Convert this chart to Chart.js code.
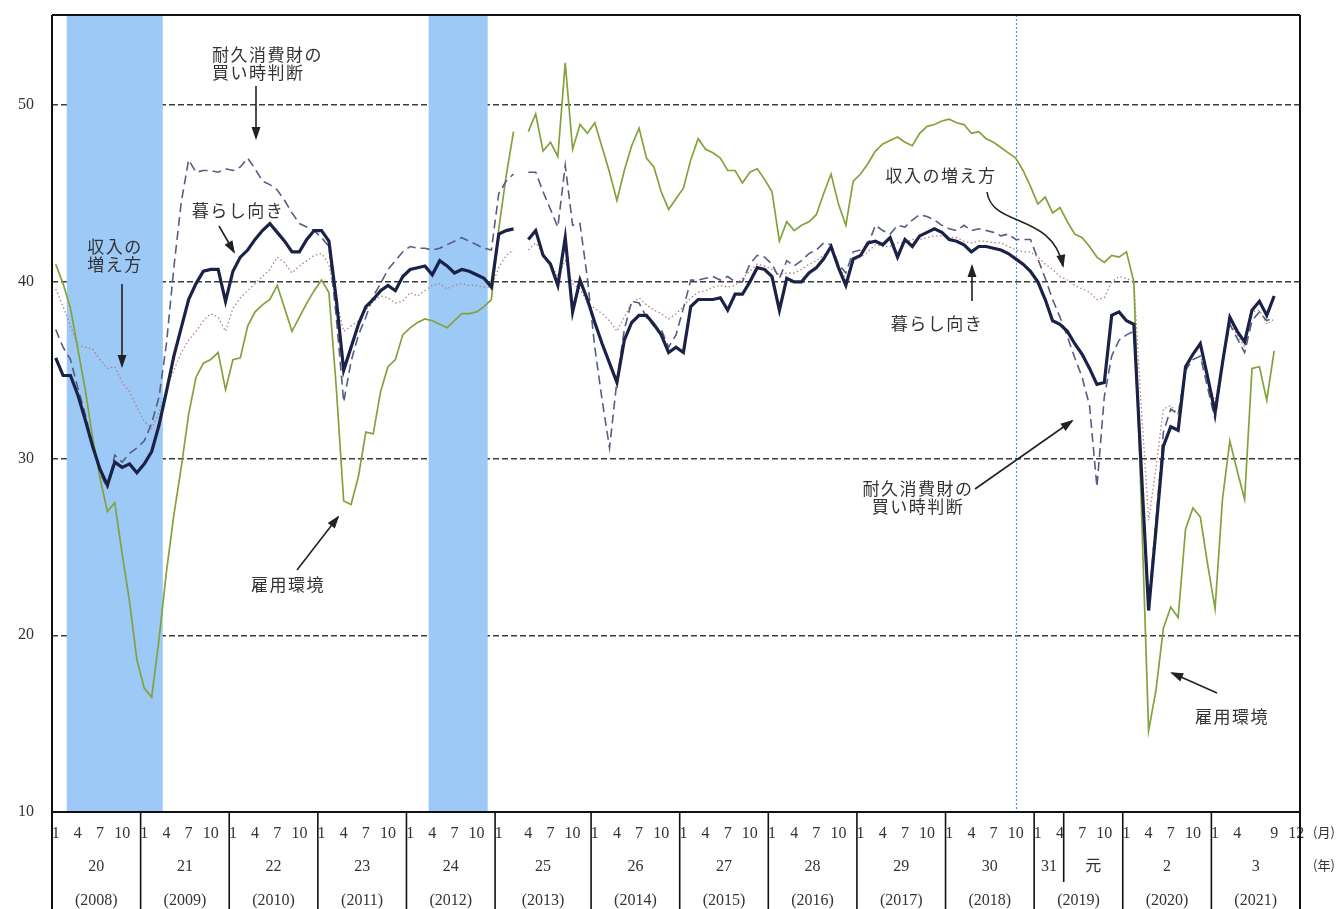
<!DOCTYPE html>
<html><head><meta charset="utf-8">
<script src="https://cdn.jsdelivr.net/npm/chart.js@4.4.1/dist/chart.umd.min.js"></script>
<style>html,body{margin:0;padding:0;background:#fff}#wrap{width:1343px;height:909px;position:relative}</style>
</head><body><div id="wrap"><canvas id="c"></canvas></div>
<script>
// ---------- data (monthly, Jan 2008 – Sep 2021) ----------
const years = [2008,2009,2010,2011,2012,2013,2014,2015,2016,2017,2018,2019,2020,2021];
const eraNames = ['20','21','22','23','24','25','26','27','28','29','30',null,'2','3'];
const era2019 = [['31', 1, 4], ['元', 5, 12]];   // Heisei 31 (Jan–Apr), Reiwa 元 (May–Dec)
const monthTicks = [1,4,7,10];
const monthTicks2021 = [1,4,9,12];
const surveyBreak = '2013-03';                    // blank slot after this month (survey method change)
const recessions = [['2008-03','2009-03'], ['2012-04','2012-11']];
const cyclePeak = '2018-10';
const yTicks = [10,20,30,40,50];

// 暮らし向き
const kurashi = [
 35.7,34.7,34.7,33.6,32.2,30.7,29.4,28.5,29.8,29.5,29.7,29.2,
 29.7,30.4,31.9,33.8,35.8,37.4,39.0,39.9,40.6,40.7,40.7,38.9,
 40.6,41.4,41.8,42.4,42.9,43.3,42.8,42.3,41.7,41.7,42.4,42.9,
 42.9,42.3,39.0,35.0,36.3,37.6,38.6,39.0,39.5,39.8,39.5,40.3,
 40.7,40.8,40.9,40.4,41.2,40.9,40.5,40.7,40.6,40.4,40.2,39.7,
 42.7,42.9,43.0,42.4,42.9,41.5,41.0,39.8,42.5,38.3,40.1,39.0,
 37.7,36.5,35.4,34.3,36.7,37.7,38.1,38.1,37.6,37.0,36.0,36.3,
 36.0,38.6,39.0,39.0,39.0,39.1,38.4,39.3,39.3,40.0,40.8,40.7,
 40.3,38.4,40.2,40.0,40.0,40.5,40.8,41.3,42.0,40.8,39.8,41.3,
 41.5,42.2,42.3,42.1,42.5,41.4,42.4,42.0,42.6,42.8,43.0,42.8,
 42.4,42.3,42.1,41.7,42.0,42.0,41.9,41.8,41.6,41.3,41.0,40.6,
 40.0,39.0,37.8,37.6,37.2,36.5,35.9,35.1,34.2,34.3,38.1,38.3,
 37.8,37.6,29.5,21.4,26.0,30.7,31.8,31.6,35.2,35.9,36.5,34.6,
 32.6,35.4,38.0,37.2,36.6,38.4,38.9,38.1,39.2];
// 収入の増え方
const shunyu = [
 39.6,38.6,37.5,36.4,36.3,36.2,35.6,35.1,35.2,34.3,33.8,32.9,
 32.1,31.7,32.6,34.0,35.0,36.0,36.7,37.2,37.8,38.2,38.0,37.2,
 38.5,39.1,39.5,39.9,40.3,40.7,41.4,41.1,40.5,40.9,41.2,41.5,
 41.6,41.0,38.9,37.2,37.5,37.8,38.4,38.9,39.2,39.1,38.8,38.9,
 39.4,39.2,39.5,39.8,39.9,39.6,39.8,39.9,39.8,39.8,39.7,39.7,
 40.8,41.5,41.8,41.8,42.2,41.6,41.0,40.3,41.2,39.9,39.6,38.8,
 38.5,38.2,37.8,37.2,38.0,38.8,39.1,38.7,38.4,38.2,37.9,38.2,
 38.6,39.1,39.4,39.5,39.7,39.8,39.7,39.8,40.2,40.6,41.0,40.9,
 40.7,40.4,40.5,40.5,40.7,41.0,41.2,41.5,41.9,41.0,40.1,41.2,
 41.4,41.7,42.1,42.0,42.0,42.2,42.2,42.4,42.4,42.5,42.6,42.6,
 42.5,42.5,42.3,42.2,42.3,42.3,42.2,42.2,42.0,41.8,41.7,41.7,
 41.4,41.0,40.7,40.3,40.1,39.8,39.6,39.4,39.0,39.1,40.0,40.3,
 40.2,40.0,33.0,26.5,29.5,32.8,33.0,32.5,35.3,35.6,35.8,34.5,
 33.2,35.5,37.8,37.0,36.3,38.3,38.4,37.6,37.9];
// 雇用環境
const koyou = [
 41.0,39.9,38.5,36.2,33.9,31.2,28.9,27.0,27.5,24.6,21.9,18.6,
 17.0,16.5,19.8,23.6,26.8,29.5,32.5,34.6,35.4,35.6,36.0,33.9,
 35.6,35.7,37.5,38.3,38.7,39.0,39.8,38.5,37.2,38.0,38.8,39.5,
 40.1,39.4,34.0,27.6,27.4,29.0,31.5,31.4,33.8,35.2,35.6,37.0,
 37.4,37.7,37.9,37.8,37.6,37.4,37.8,38.2,38.2,38.3,38.6,39.0,
 43.0,46.0,48.5,48.5,49.5,47.4,47.9,47.1,52.4,47.5,48.9,48.4,
 49.0,47.6,46.2,44.6,46.3,47.7,48.7,47.0,46.5,45.1,44.1,44.7,
 45.3,46.9,48.1,47.5,47.3,47.0,46.3,46.3,45.6,46.2,46.4,45.8,
 45.1,42.3,43.4,42.9,43.2,43.4,43.8,45.0,46.1,44.4,43.2,45.7,
 46.1,46.7,47.4,47.8,48.0,48.2,47.9,47.7,48.4,48.8,48.9,49.1,
 49.2,49.0,48.9,48.4,48.5,48.1,47.9,47.6,47.3,47.0,46.3,45.4,
 44.4,44.8,43.9,44.2,43.4,42.7,42.5,42.0,41.4,41.1,41.5,41.4,
 41.7,40.0,27.5,14.6,16.9,20.4,21.6,21.0,26.0,27.2,26.7,24.0,
 21.5,27.7,31.0,29.3,27.7,35.1,35.2,33.3,36.1];
// 耐久消費財の買い時判断
const taikyu = [
 37.3,36.3,35.6,34.0,32.5,30.8,29.2,28.3,30.2,29.8,30.3,30.6,
 31.0,32.0,33.5,36.5,40.8,44.5,46.9,46.2,46.3,46.3,46.2,46.4,
 46.3,46.5,47.0,46.4,45.7,45.5,45.2,44.6,43.9,43.3,43.1,42.9,
 42.5,42.0,38.0,33.2,35.5,37.0,38.0,39.2,39.9,40.7,41.2,41.7,
 42.0,41.9,41.9,41.8,41.9,42.1,42.3,42.5,42.3,42.1,41.9,41.8,
 45.0,45.7,46.1,46.2,46.2,45.1,44.1,43.1,46.6,43.2,43.3,40.2,
 36.3,33.3,30.6,34.4,37.3,38.9,38.8,38.0,37.5,37.3,36.3,37.0,
 38.5,40.1,40.1,40.2,40.3,40.1,40.3,40.0,40.0,41.0,41.5,41.4,
 41.0,40.2,41.2,40.9,41.2,41.6,41.8,42.2,42.1,41.0,40.5,41.7,
 41.8,42.1,43.2,42.9,42.7,43.2,43.1,43.5,43.8,43.7,43.5,43.2,
 43.0,42.9,43.2,42.9,43.0,42.9,42.8,42.6,42.7,42.4,42.4,42.4,
 41.3,40.2,39.0,38.0,36.9,35.7,34.6,33.0,28.4,33.5,35.8,36.7,
 37.0,37.2,29.5,21.8,26.5,31.5,32.8,32.5,35.0,35.6,35.8,34.0,
 32.2,35.5,37.6,36.8,36.0,37.8,38.3,37.8,38.0];

// ---------- categories (one slot per month, plus a blank slot at the survey break) ----------
const slots = [];
years.forEach(y => { for (let m = 1; m <= 12; m++) {
  const key = y + '-' + String(m).padStart(2, '0');
  slots.push(key);
  if (key === surveyBreak) slots.push('');
}});
const breakIdx = slots.indexOf('');
const withGap = a => [...a.slice(0, breakIdx), null, ...a.slice(breakIdx)];
const slotOf = key => slots.indexOf(key);
const monthLabels = slots.map(k => {
  if (!k) return '';
  const y = +k.slice(0, 4), m = +k.slice(5);
  const set = y === 2021 ? monthTicks2021 : monthTicks;
  return set.includes(m) ? String(m) : '';
});
// year-row ticks
const yearTicks = [];
years.forEach((y, i) => {
  const a = slotOf(y + '-01'), b = slotOf(y + '-12');
  if (eraNames[i] !== null) yearTicks.push({ v: (a + b) / 2, label: [eraNames[i], '(' + y + ')'] });
  else {
    era2019.forEach(([n, m1, m2]) => {
      const s1 = slotOf(y + '-' + String(m1).padStart(2, '0')), s2 = slotOf(y + '-' + String(m2).padStart(2, '0'));
      yearTicks.push({ v: (s1 + s2) / 2, label: [n, ''] });
    });
    yearTicks.push({ v: (a + b) / 2, label: ['', '(' + y + ')'] });
  }
});

// ---------- drawing helpers ----------
const SERIF = '"Liberation Serif", "Noto Sans CJK JP", serif';
const JP = '"Noto Sans CJK JP", sans-serif';
function arrow(ctx, pts, curve) {
  ctx.save();
  ctx.strokeStyle = '#222'; ctx.fillStyle = '#222'; ctx.lineWidth = 1.6; ctx.setLineDash([]);
  ctx.beginPath(); ctx.moveTo(pts[0][0], pts[0][1]);
  if (curve) ctx.bezierCurveTo(pts[1][0], pts[1][1], pts[2][0], pts[2][1], pts[3][0], pts[3][1]);
  else ctx.lineTo(pts[1][0], pts[1][1]);
  ctx.stroke();
  const end = pts[pts.length - 1], prev = pts[pts.length - 2];
  const ang = Math.atan2(end[1] - prev[1], end[0] - prev[0]);
  const L = 11, W = 4.5;
  ctx.beginPath();
  ctx.moveTo(end[0] + Math.cos(ang) * 2, end[1] + Math.sin(ang) * 2);
  ctx.lineTo(end[0] - Math.cos(ang) * L - Math.sin(ang) * W, end[1] - Math.sin(ang) * L + Math.cos(ang) * W);
  ctx.lineTo(end[0] - Math.cos(ang) * L + Math.sin(ang) * W, end[1] - Math.sin(ang) * L - Math.cos(ang) * W);
  ctx.closePath(); ctx.fill();
  ctx.restore();
}
const notes = [
  { lines: ['耐久消費財の', '買い時判断'], x: 212, y: 55, align: 'left' },
  { lines: ['暮らし向き'], x: 238, y: 211, align: 'center' },
  { lines: ['収入の', '増え方'], x: 115, y: 247, align: 'center' },
  { lines: ['雇用環境'], x: 288, y: 585, align: 'center' },
  { lines: ['収入の増え方'], x: 941, y: 176, align: 'center' },
  { lines: ['暮らし向き'], x: 937, y: 324, align: 'center' },
  { lines: ['耐久消費財の', '買い時判断'], x: 918, y: 489, align: 'center' },
  { lines: ['雇用環境'], x: 1232, y: 717, align: 'center' }
];
const arrows = [
  [[256, 86], [256, 138]],
  [[219, 226], [234, 252]],
  [[122, 284], [122, 366]],
  [[297, 570], [338, 517]],
  [[972, 301], [972, 266]],
  [[975, 489], [1072, 421]],
  [[1217, 693], [1172, 673]]
];
const curvedArrow = [[987, 192], [992, 228], [1052, 212], [1063, 266]];

const decor = {
  id: 'decor',
  beforeDatasetsDraw(chart) {
    const { ctx, chartArea: a, scales: { x } } = chart;
    ctx.save();
    ctx.fillStyle = '#9cc9f6';
    recessions.forEach(([s, e]) => {
      const x1 = x.getPixelForValue(slotOf(s) - 0.5), x2 = x.getPixelForValue(slotOf(e) + 0.5);
      ctx.fillRect(x1, a.top, x2 - x1, a.bottom - a.top);
    });
    const px = Math.round(x.getPixelForValue(slotOf(cyclePeak))) + 0.5;
    ctx.strokeStyle = '#4c8fdc'; ctx.lineWidth = 1.2; ctx.setLineDash([2, 2]);
    ctx.beginPath(); ctx.moveTo(px, a.top); ctx.lineTo(px, a.bottom); ctx.stroke();
    ctx.restore();
  },
  afterDraw(chart) {
    const { ctx, chartArea: a, scales: { x } } = chart;
    const H = chart.height;
    ctx.save();
    ctx.strokeStyle = '#111'; ctx.lineWidth = 2; ctx.setLineDash([]);
    ctx.beginPath();
    ctx.moveTo(a.left, a.top); ctx.lineTo(a.right, a.top);
    ctx.moveTo(a.left, a.bottom); ctx.lineTo(a.right, a.bottom);
    ctx.moveTo(a.left, a.top); ctx.lineTo(a.left, H);
    ctx.moveTo(a.right, a.top); ctx.lineTo(a.right, H);
    ctx.stroke();
    ctx.lineWidth = 1.6;
    ctx.beginPath();
    years.slice(1).forEach(y => {
      const px = x.getPixelForValue(slotOf(y + '-01') - 0.5);
      ctx.moveTo(px, a.bottom); ctx.lineTo(px, H);
    });
    const eraPx = x.getPixelForValue(slotOf('2019-05') - 0.5);
    ctx.moveTo(eraPx, a.bottom); ctx.lineTo(eraPx, a.bottom + 70);
    ctx.stroke();
    // unit labels
    ctx.fillStyle = '#333'; ctx.font = '13px ' + JP; ctx.textAlign = 'center'; ctx.textBaseline = 'middle';
    ctx.fillText('(月)', 1324, 832);
    ctx.fillText('(年)', 1324, 865);
    // annotations
    ctx.fillStyle = '#333'; ctx.font = '17px ' + JP; ctx.textBaseline = 'middle';
    try { ctx.letterSpacing = '1.5px'; } catch (e) {}
    notes.forEach(n => {
      ctx.textAlign = n.align;
      n.lines.forEach((t, i) => ctx.fillText(t, n.x, n.y + i * 18));
    });
    ctx.restore();
    arrows.forEach(p => arrow(ctx, p, false));
    arrow(ctx, curvedArrow, true);
  }
};

const line = (data, color, width, dash) => ({
  data: withGap(data), borderColor: color, borderWidth: width, borderDash: dash || [],
  pointRadius: 0, tension: 0, spanGaps: false, fill: false
});

new Chart(document.getElementById('c'), {
  type: 'line',
  data: {
    labels: slots,
    datasets: [
      Object.assign(line(kurashi, '#1b2248', 3.2), { label: '暮らし向き' }),
      Object.assign(line(taikyu, '#595b82', 1.6, [9, 5]), { label: '耐久消費財の買い時判断' }),
      Object.assign(line(koyou, '#84a23c', 1.7), { label: '雇用環境' }),
      Object.assign(line(shunyu, '#b57f7f', 1.3, [1.5, 2.5]), { label: '収入の増え方' })
    ]
  },
  options: {
    responsive: true, maintainAspectRatio: false, animation: false,
    layout: { padding: { top: 15, right: 43, left: 0, bottom: 0 } },
    plugins: { legend: { display: false }, tooltip: { enabled: false } },
    scales: {
      x: {
        type: 'category', offset: true, weight: 0,
        grid: { display: false, drawTicks: false }, border: { display: false },
        ticks: { autoSkip: false, maxRotation: 0, minRotation: 0, padding: 12, color: '#333',
          font: { family: SERIF, size: 16 }, callback: (v, i) => monthLabels[i] },
        afterFit: s => { s.height = 36; }
      },
      x2: {
        type: 'linear', position: 'bottom', weight: 1, min: -0.5, max: slots.length - 0.5,
        grid: { display: false, drawTicks: false }, border: { display: false },
        afterBuildTicks: s => { s.ticks = yearTicks.map(t => ({ value: t.v })); },
        ticks: { autoSkip: false, maxRotation: 0, minRotation: 0, padding: 2, color: '#333',
          font: { family: SERIF, size: 16, lineHeight: '34px' }, callback: (v, i) => yearTicks[i] ? yearTicks[i].label : '' },
        afterFit: s => { s.height = 61; }
      },
      y: {
        min: 10, max: 55.1,
        afterBuildTicks: s => { s.ticks = yTicks.map(v => ({ value: v })); },
        grid: { drawTicks: false, lineWidth: 1.4, color: c => c.tick && c.tick.value === 10 ? 'rgba(0,0,0,0)' : '#3c3c3c' },
        border: { display: false, dash: [6, 3] },
        ticks: { padding: 18, color: '#333', font: { family: SERIF, size: 16 } },
        afterFit: s => { s.width = 52; s.paddingTop = 0; s.paddingBottom = 0; }
      }
    }
  },
  plugins: [decor]
});
</script>
</body></html>
